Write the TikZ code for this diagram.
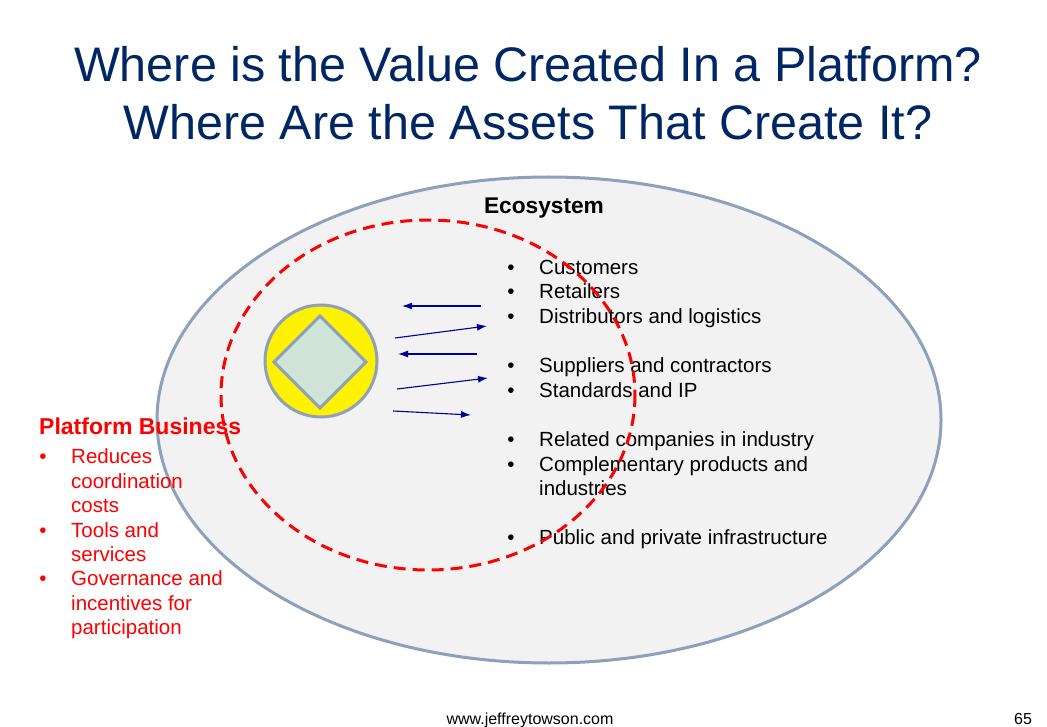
\documentclass[tikz,border=0pt]{standalone}
\usepackage{fontspec}
\setmainfont{Liberation Sans}
\usetikzlibrary{arrows.meta}
\definecolor{titleblue}{RGB}{0,38,100}
\definecolor{ringgray}{RGB}{142,160,186}
\definecolor{ecofill}{RGB}{242,242,242}
\definecolor{gemgreen}{RGB}{208,228,216}
\definecolor{flownavy}{RGB}{0,0,153}
\tikzset{
  itemtext/.style={anchor=base west, inner sep=0pt, font=\fontsize{20.5}{24}\selectfont},
  itemdot/.style={anchor=base, inner sep=0pt, font=\fontsize{20.5}{24}\selectfont},
  flow/.style={color=flownavy, line width=1.1pt, -{Latex[length=10pt,width=7pt]}}
}
\begin{document}
\begin{tikzpicture}[x=1pt, y=-1pt]
			%%%%% START %%%%%
			\useasboundingbox (0, 0) rectangle (1047, 727);
			
			\node[anchor=base, inner sep=0pt, color=titleblue, align=center, font=\fontsize{48.5}{58}\selectfont] (title) at (528, 140) {Where is the Value Created In a Platform?\\Where Are the Assets That Create It?};
			
			\draw[line width=3pt, color=ringgray, fill=ecofill] (549, 420) ellipse (392 and 243);
			\node[anchor=base, inner sep=0pt, font=\fontsize{22.7}{26}\selectfont\bfseries] (eco) at (544, 214) {Ecosystem};
			
			\node[itemdot] (d1) at (511, 275) {•};
			\node[itemtext] (customers) at (539, 275) {Customers};
			\node[itemdot] (d2) at (511, 299) {•};
			\node[itemtext] (retailers) at (539, 299) {Retailers};
			\node[itemdot] (d3) at (511, 324) {•};
			\node[itemtext] (distributors) at (539, 324) {Distributors and logistics};
			\node[itemdot] (d4) at (511, 373) {•};
			\node[itemtext] (suppliers) at (539, 373) {Suppliers and contractors};
			\node[itemdot] (d5) at (511, 397) {•};
			\node[itemtext] (standards) at (539, 397) {Standards and IP};
			\node[itemdot] (d6) at (511, 446) {•};
			\node[itemtext] (related) at (539, 446) {Related companies in industry};
			\node[itemdot] (d7) at (511, 471) {•};
			\node[itemtext] (complementary) at (539, 471) {Complementary products and};
			\node[itemtext] (industries) at (539, 495) {industries};
			\node[itemdot] (d8) at (511, 544) {•};
			\node[itemtext] (infra) at (539, 544) {Public and private infrastructure};
			
			\draw[line width=3pt, color=ringgray, fill=yellow] (321, 361) circle (56);
			\draw[line width=3pt, color=ringgray, fill=gemgreen] (320, 316) -- (366, 362) -- (320, 408) -- (274, 362) -- cycle;
			
			\coordinate (a1s) at (481, 306);
			\coordinate (a1e) at (402, 306);
			\coordinate (a2s) at (395, 338);
			\coordinate (a2e) at (487, 326);
			\coordinate (a3s) at (477, 354);
			\coordinate (a3e) at (398, 354);
			\coordinate (a4s) at (397, 389);
			\coordinate (a4e) at (488, 378);
			\coordinate (a5s) at (393, 411);
			\coordinate (a5e) at (471, 415);
			\draw[flow] (a1s) -- (a1e);
			\draw[flow] (a2s) -- (a2e);
			\draw[flow] (a3s) -- (a3e);
			\draw[flow] (a4s) -- (a4e);
			\draw[flow] (a5s) -- (a5e);
			
			\draw[line width=3pt, color=red, dash pattern=on 12pt off 7pt] (428, 395) ellipse (207 and 175);
			
			\node[anchor=base west, inner sep=0pt, color=red, font=\fontsize{23}{26}\selectfont\bfseries] (platform) at (39, 434) {Platform Business};
			\node[itemdot, color=red] (p1) at (43, 463) {•};
			\node[itemtext, color=red] (reduces) at (71, 463) {Reduces};
			\node[itemtext, color=red] (coord) at (71, 488) {coordination};
			\node[itemtext, color=red] (costs) at (71, 512) {costs};
			\node[itemdot, color=red] (p2) at (43, 537) {•};
			\node[itemtext, color=red] (tools) at (71, 537) {Tools and};
			\node[itemtext, color=red] (services) at (71, 561) {services};
			\node[itemdot, color=red] (p3) at (43, 585) {•};
			\node[itemtext, color=red] (governance) at (71, 585) {Governance and};
			\node[itemtext, color=red] (incentives) at (71, 610) {incentives for};
			\node[itemtext, color=red] (participation) at (71, 634) {participation};
			
			\node[anchor=base, inner sep=0pt, font=\fontsize{16}{18}\selectfont] (site) at (530, 724) {www.jeffreytowson.com};
			\node[anchor=base, inner sep=0pt, font=\fontsize{16}{18}\selectfont] (page) at (1023, 724) {65};
			%%%%% END %%%%%
\end{tikzpicture}
\end{document}
